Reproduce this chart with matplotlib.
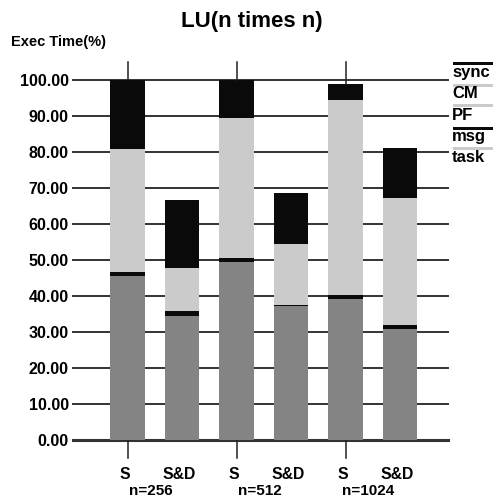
import numpy as np
import matplotlib
matplotlib.use("Agg")
import matplotlib.pyplot as plt
from matplotlib.patches import Rectangle

plt.rcParams['font.family'] = ['Liberation Sans', 'DejaVu Sans']
plt.rcParams['font.weight'] = 'bold'

# bar labels and groups
bar_labels = ["S", "S&D", "S", "S&D", "S", "S&D"]
group_labels = ["n=256", "n=512", "n=1024"]

# stacked components (% of exec time), bottom to top
task = [45.5, 34.5, 49.4, 37.2, 39.2, 30.8]
msg = [1.2, 1.3, 1.2, 0.3, 1.1, 1.1]
pf = [34.1, 12.0, 38.8, 16.9, 54.1, 35.3]
cm = [0.0, 0.0, 0.0, 0.0, 0.0, 0.0]
sync = [19.2, 18.9, 10.6, 14.2, 4.6, 13.9]

yticks = [0, 10, 20, 30, 40, 50, 60, 70, 80, 90, 100]

c_task = "#848484"
c_light = "#cbcbcb"
c_black = "#0a0a0a"

fig = plt.figure(figsize=(4.99, 5.0), dpi=100)
ax = fig.add_axes([73 / 499, 60 / 500, (448 - 73) / 499, (440 - 62) / 500])

x = np.arange(len(bar_labels))
w = 0.64
bottom = np.zeros(len(x))
for vals, col in [(task, c_task), (msg, c_black), (pf, c_light), (cm, c_light), (sync, c_black)]:
    ax.bar(x, vals, w, bottom=bottom, color=col, linewidth=0, zorder=3)
    bottom += np.array(vals)

ax.set_xlim(-1.0, 5.88)
ax.set_ylim(0, 105)

# horizontal grid lines
for t in yticks:
    ax.axhline(t, color="#333333", lw=1.4 if t else 2.2, zorder=2, clip_on=False)
ax.set_yticks(yticks)
ax.set_yticklabels([f"{t:.2f}" for t in yticks], fontsize=11.5, fontweight='bold')
ax.tick_params(axis='y', length=0, pad=3)
ax.set_xticks([])
for s in ax.spines.values():
    s.set_visible(False)

# marker lines above and below the S bars
for i in range(0, len(x), 2):
    ax.plot([x[i], x[i]], [bottom[i], 105], color="#222222", lw=1.1, zorder=4, clip_on=False)
    ax.plot([x[i], x[i]], [0, -5], color="#222222", lw=1.1, clip_on=False)

for i, lab in enumerate(bar_labels):
    ax.text(x[i] - 0.05, -9.7, lab, ha='center', va='center', fontsize=11.3, fontweight='bold')
for g, lab in enumerate(group_labels):
    ax.text(2 * g + 0.42, -14.2, lab, ha='center', va='center', fontsize=11, fontweight='bold')

fig.text(252 / 499, 1 - 22 / 500, "LU(n times n)", ha='center', va='center',
         fontsize=16, fontweight='bold')
fig.text(11 / 499, 1 - 42 / 500, "Exec Time(%)", ha='left', va='center',
         fontsize=10.5, fontweight='bold')

# legend on the right
leg_items = [("sync", c_black, 63, 73), ("CM", c_light, 85.5, 94), ("PF", c_light, 105.5, 115),
             ("msg", c_black, 128.5, 136), ("task", c_light, 148.5, 157)]
for name, col, py, ty in leg_items:
    fig.patches.append(Rectangle((453 / 499, 1 - (py + 1.5) / 500), 40 / 499, 3 / 500,
                                 transform=fig.transFigure, color=col, lw=0))
    fig.text(452 / 499, 1 - ty / 500, name, ha='left', va='center', fontsize=12, fontweight='bold')

fig.savefig("out.png", dpi=100)
